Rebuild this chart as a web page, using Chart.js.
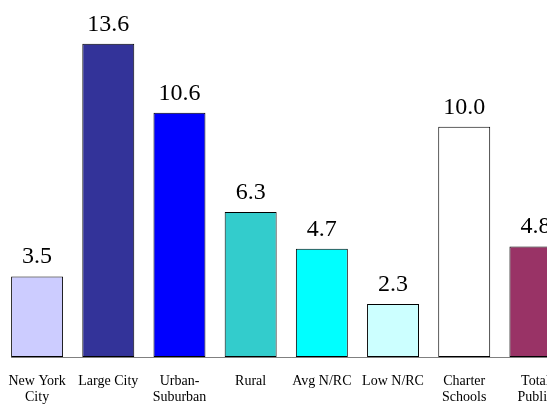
<!DOCTYPE html>
<html>
<head>
<meta charset="utf-8">
<script src="https://cdn.jsdelivr.net/npm/chart.js@4/dist/chart.umd.min.js"></script>
<style>
  html, body { margin: 0; padding: 0; background: #ffffff; overflow: hidden; }
  #wrap { position: absolute; left: 0; top: 0; width: 571px; height: 405px; }
</style>
</head>
<body>
<div id="wrap"><canvas id="c"></canvas></div>
<script>
const categories = [
  ["New York", "City"],
  ["Large City"],
  ["Urban-", "Suburban"],
  ["Rural"],
  ["Avg N/RC"],
  ["Low N/RC"],
  ["Charter", "Schools"],
  ["Total", "Public"]
];
const values = [3.5, 13.6, 10.6, 6.3, 4.7, 2.3, 10.0, 4.8];
const barColors = ["#CCCCFF", "#333399", "#0000FF", "#33CCCC", "#00FFFF", "#CCFFFF", "#FFFFFF", "#993366"];

const baseLine = {
  id: 'baseLine',
  beforeDatasetsDraw(chart) {
    const ctx = chart.ctx;
    const meta = chart.getDatasetMeta(0);
    const first = meta.data[0];
    const y = Math.round(chart.scales.y.getPixelForValue(0)) + 0.5;
    ctx.save();
    ctx.strokeStyle = '#808080';
    ctx.lineWidth = 1;
    ctx.beginPath();
    ctx.moveTo(first.x - first.width / 2, y);
    ctx.lineTo(chart.chartArea.right, y);
    ctx.stroke();
    ctx.restore();
  }
};

const valueLabels = {
  id: 'valueLabels',
  afterDatasetsDraw(chart) {
    const ctx = chart.ctx;
    const meta = chart.getDatasetMeta(0);
    ctx.save();
    ctx.font = '24px "Liberation Serif", "Times New Roman", serif';
    ctx.fillStyle = '#000000';
    ctx.textAlign = 'center';
    ctx.textBaseline = 'alphabetic';
    meta.data.forEach((bar, i) => {
      ctx.fillText(values[i].toFixed(1), bar.x, bar.y - 13);
    });
    ctx.restore();
  }
};

new Chart(document.getElementById('c'), {
  type: 'bar',
  data: {
    labels: categories,
    datasets: [{
      data: values,
      backgroundColor: barColors,
      borderColor: '#000000',
      borderWidth: 1,
      borderSkipped: false,
      categoryPercentage: 1.0,
      barPercentage: 0.73
    }]
  },
  options: {
    responsive: true,
    maintainAspectRatio: false,
    animation: false,
    devicePixelRatio: 1,
    layout: { padding: { left: 1.5, right: 0, top: 0, bottom: 0 } },
    plugins: {
      legend: { display: false },
      tooltip: { enabled: false },
      title: { display: false }
    },
    scales: {
      x: {
        grid: { display: false, drawTicks: true, tickLength: 16 },
        border: { display: false },
        ticks: {
          color: '#000000',
          padding: 0,
          maxRotation: 0,
          autoSkip: false,
          font: { family: '"Liberation Serif", "Times New Roman", serif', size: 14, lineHeight: 1.143 }
        }
      },
      y: {
        display: false,
        min: 0,
        max: 15.5
      }
    }
  },
  plugins: [baseLine, valueLabels]
});
</script>
</body>
</html>
